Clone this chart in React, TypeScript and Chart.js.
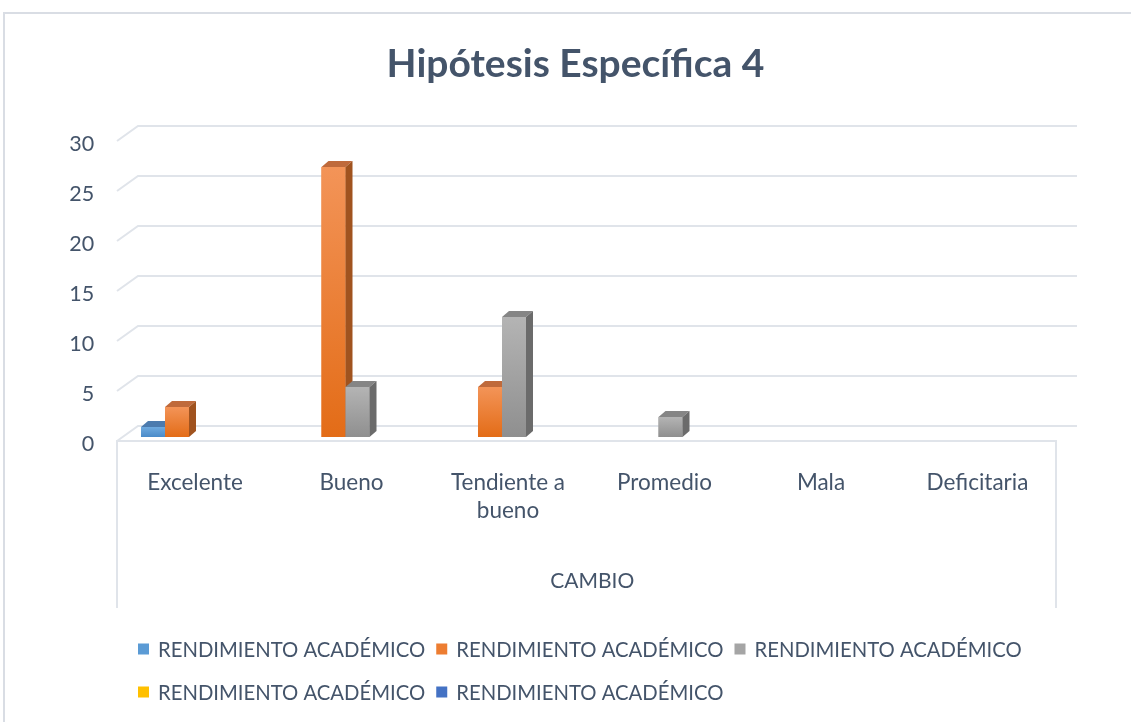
import React, { useEffect, useRef } from "react";
import { Chart, registerables } from "chart.js";

Chart.register(...registerables);

// ---------- data ----------
const chartTitle = "Hipótesis Específica 4";
const axisTitle = "CAMBIO";
const categories = ["Excelente", "Bueno", "Tendiente a bueno", "Promedio", "Mala", "Deficitaria"];
const seriesNames = [
  "RENDIMIENTO ACADÉMICO",
  "RENDIMIENTO ACADÉMICO",
  "RENDIMIENTO ACADÉMICO",
  "RENDIMIENTO ACADÉMICO",
  "RENDIMIENTO ACADÉMICO",
];
const serie1 = [1, 0, 0, 0, 0, 0];
const serie2 = [3, 27, 5, 0, 0, 0];
const serie3 = [0, 5, 12, 2, 0, 0];
const serie4 = [0, 0, 0, 0, 0, 0];
const serie5 = [0, 0, 0, 0, 0, 0];
const yMin = 0;
const yMax = 30;
const yStep = 5;

// ---------- styles ----------
const TEXT = "#44546a";
const GRID = "#e0e4ea";
const FONT = "Lato";
const PALETTE = [
  { base: "#5b9bd5", light: "#6faadf", dark: "#4a8bc9", top: "#4c7bae", side: "#3c6a9a" },
  { base: "#ed7d31", light: "#f39458", dark: "#e36c17", top: "#bf6a3b", side: "#a0531f" },
  { base: "#a5a5a5", light: "#b4b4b4", dark: "#8f8f8f", top: "#858585", side: "#6b6b6b" },
  { base: "#ffc000", light: "#ffcb33", dark: "#f0b400", top: "#c49300", side: "#a67c00" },
  { base: "#4472c4", light: "#5582cf", dark: "#3a64b0", top: "#345a9a", side: "#2a4a80" },
];
const DX = 7, DY = -6; // bar depth
const WX = 21, WY = -15; // wall depth
const FRONT_SHIFT_X = -5.75, FRONT_SHIFT_Y = 4;
const BOX_BOTTOM = 608;

function wrapLabel(s: string): string | string[] {
  if (s.length <= 11) return s;
  const words = s.split(" ");
  const lines: string[] = [];
  let cur = "";
  words.forEach((w) => {
    const t = cur ? cur + " " + w : w;
    if (t.length > 11 && cur) {
      lines.push(cur);
      cur = w;
    } else cur = t;
  });
  if (cur) lines.push(cur);
  return lines;
}

function poly(ctx: CanvasRenderingContext2D, pts: number[][]) {
  ctx.beginPath();
  ctx.moveTo(pts[0][0], pts[0][1]);
  for (let i = 1; i < pts.length; i++) ctx.lineTo(pts[i][0], pts[i][1]);
  ctx.closePath();
  ctx.fill();
}

const threeDPlugin = {
  id: "threeD",
  beforeDraw(chart: any) {
    const ctx = chart.ctx;
    ctx.save();
    ctx.strokeStyle = "#d9dde4";
    ctx.lineWidth = 2;
    ctx.strokeRect(4, 13, chart.width + 40, chart.height + 40);
    ctx.restore();
  },
  beforeDatasetsDraw(chart: any) {
    const { ctx, chartArea: ca, scales } = chart;
    const y = scales.y;
    const fl = ca.left + FRONT_SHIFT_X;
    const fr = ca.right + FRONT_SHIFT_X;
    ctx.save();
    ctx.strokeStyle = GRID;
    ctx.lineWidth = 2;
    y.ticks.forEach((t: any) => {
      const yf = y.getPixelForValue(t.value) + FRONT_SHIFT_Y;
      ctx.beginPath();
      ctx.moveTo(fl, yf);
      ctx.lineTo(fl + WX, yf + WY);
      ctx.lineTo(fr + WX, yf + WY);
      ctx.stroke();
    });
    const y0 = y.getPixelForValue(0) + FRONT_SHIFT_Y;
    ctx.beginPath();
    ctx.moveTo(fl, BOX_BOTTOM);
    ctx.lineTo(fl, y0);
    ctx.lineTo(fr, y0);
    ctx.lineTo(fr, BOX_BOTTOM);
    ctx.stroke();
    ctx.restore();
  },
  afterDatasetsDraw(chart: any) {
    const ctx = chart.ctx;
    ctx.save();
    chart.data.datasets.forEach((ds: any, i: number) => {
      const meta = chart.getDatasetMeta(i);
      if (meta.hidden) return;
      const pal = PALETTE[i];
      meta.data.forEach((el: any, j: number) => {
        const v = ds.data[j];
        if (!v) return;
        const { x, y, base, width } = el.getProps(["x", "y", "base", "width"], true);
        const l = x - width / 2;
        const r = x + width / 2;
        const g = ctx.createLinearGradient(0, y, 0, base);
        g.addColorStop(0, pal.light);
        g.addColorStop(1, pal.dark);
        ctx.fillStyle = g;
        ctx.fillRect(l, y, width, base - y);
        ctx.fillStyle = pal.top;
        poly(ctx, [[l, y], [r, y], [r + DX, y + DY], [l + DX, y + DY]]);
        ctx.fillStyle = pal.side;
        poly(ctx, [[r, y], [r + DX, y + DY], [r + DX, base + DY], [r, base]]);
      });
    });
    ctx.restore();
  },
  afterDraw(chart: any) {
    const { ctx, chartArea: ca } = chart;
    ctx.save();
    ctx.font = `20.3px ${FONT}`;
    ctx.textBaseline = "middle";
    ctx.textAlign = "left";
    const startX = ca.left + 15.25;
    let cx = startX;
    let cy = 649;
    chart.data.datasets.forEach((ds: any, i: number) => {
      const tw = ctx.measureText(ds.label).width;
      const w = 20 + tw;
      if (cx + w > 1070 && cx > startX) {
        cx = startX;
        cy += 43;
      }
      ctx.fillStyle = PALETTE[i].base;
      ctx.fillRect(cx, cy - 5.5, 11, 11);
      ctx.fillStyle = TEXT;
      ctx.fillText(ds.label, cx + 20, cy + 1);
      cx += w + 11;
    });
    ctx.restore();
  },
};

export default function App() {
  const ref = useRef<HTMLCanvasElement | null>(null);
  useEffect(() => {
    if (!ref.current) return;
    const series = [serie1, serie2, serie3, serie4, serie5];
    const chart = new Chart(ref.current, {
      type: "bar",
      data: {
        labels: categories,
        datasets: series.map((d, i) => ({
          label: seriesNames[i],
          data: d,
          backgroundColor: PALETTE[i].base,
          borderWidth: 0,
          categoryPercentage: 0.7668,
          barPercentage: 1,
        })),
      },
      options: {
        animation: false,
        responsive: true,
        maintainAspectRatio: false,
        layout: { padding: { left: 20, right: 0, top: 0, bottom: 0 } },
        plugins: {
          legend: { display: false },
          tooltip: { enabled: false },
          title: {
            display: true,
            text: chartTitle,
            color: TEXT,
            font: { family: FONT, size: 39, weight: "bold" },
            padding: { top: 41, bottom: 49.2 },
          },
        },
        scales: {
          x: {
            grid: { display: false, drawTicks: false },
            border: { display: false },
            ticks: {
              color: TEXT,
              font: { family: FONT, size: 22.5, lineHeight: 1.245 },
              padding: 32,
              labelOffset: -6,
              maxRotation: 0,
              autoSkip: false,
              callback: (_v: any, idx: number) => wrapLabel(categories[idx]),
            },
            title: {
              display: true,
              text: axisTitle,
              color: TEXT,
              font: { family: FONT, size: 21 },
              padding: { top: 0, bottom: 128 },
            },
            afterFit: (s: any) => {
              s.height = 285;
            },
          },
          y: {
            min: yMin,
            max: yMax,
            grid: { display: false, drawTicks: false },
            border: { display: false },
            ticks: {
              stepSize: yStep,
              color: TEXT,
              font: { family: FONT, size: 21.5 },
              padding: 28.5,
              labelOffset: 7,
            },
            afterFit: (s: any) => {
              s.width = 102.75;
            },
          },
          yRight: {
            type: "linear",
            position: "right",
            display: true,
            grid: { display: false, drawTicks: false },
            border: { display: false },
            ticks: { display: false },
            afterFit: (s: any) => {
              s.width = 69.25;
            },
          },
        },
      },
      plugins: [threeDPlugin],
    } as any);
    return () => chart.destroy();
  }, []);
  return (
    <div style={{ position: "absolute", left: 0, top: 0, width: 1131, height: 722 }}>
      <canvas ref={ref} />
    </div>
  );
}
